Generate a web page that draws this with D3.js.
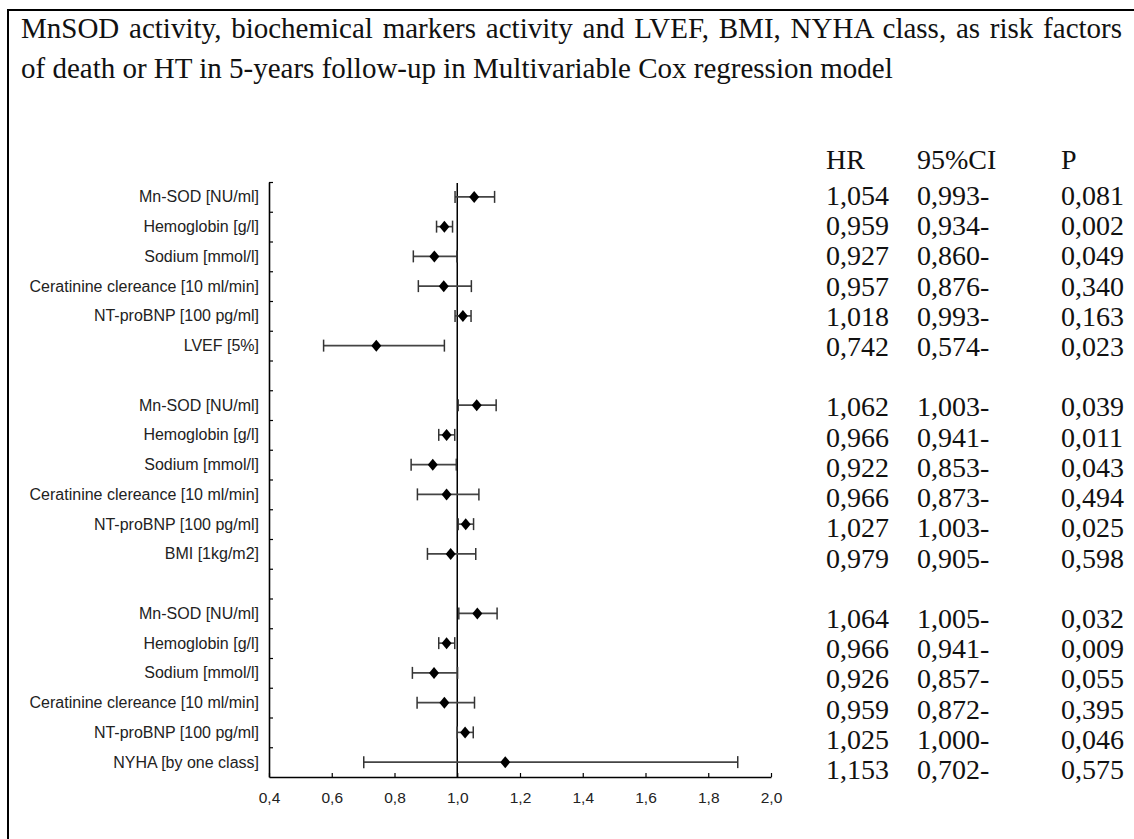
<!DOCTYPE html>
<html>
<head>
<meta charset="utf-8">
<script src="https://cdn.jsdelivr.net/npm/d3@7"></script>
<style>
  body { margin: 0; background: #fff; }
  svg { display: block; }
</style>
</head>
<body>
<svg id="chart"></svg>
<script>
// Title lines
var titleLines = [
  "MnSOD activity, biochemical markers activity and LVEF, BMI, NYHA class, as risk factors",
  "of death or HT in 5-years follow-up in Multivariable Cox regression model"
];

// Variables of the three models (6 each)
var rowLabels = [
  "Mn-SOD [NU/ml]", "Hemoglobin [g/l]", "Sodium [mmol/l]", "Ceratinine clereance [10 ml/min]", "NT-proBNP [100 pg/ml]", "LVEF [5%]",
  "Mn-SOD [NU/ml]", "Hemoglobin [g/l]", "Sodium [mmol/l]", "Ceratinine clereance [10 ml/min]", "NT-proBNP [100 pg/ml]", "BMI [1kg/m2]",
  "Mn-SOD [NU/ml]", "Hemoglobin [g/l]", "Sodium [mmol/l]", "Ceratinine clereance [10 ml/min]", "NT-proBNP [100 pg/ml]", "NYHA [by one class]"
];
var hrValues = [
  1.054, 0.959, 0.927, 0.957, 1.018, 0.742,
  1.062, 0.966, 0.922, 0.966, 1.027, 0.979,
  1.064, 0.966, 0.926, 0.959, 1.025, 1.153
];
var ciLower = [
  0.993, 0.934, 0.860, 0.876, 0.993, 0.574,
  1.003, 0.941, 0.853, 0.873, 1.003, 0.905,
  1.005, 0.941, 0.857, 0.872, 1.000, 0.702
];
// upper limits
var ciUpper = [
  1.119, 0.985, 0.999, 1.045, 1.044, 0.959,
  1.124, 0.992, 0.997, 1.069, 1.052, 1.059,
  1.127, 0.992, 1.001, 1.055, 1.051, 1.894
];
var pValues = [
  0.081, 0.002, 0.049, 0.340, 0.163, 0.023,
  0.039, 0.011, 0.043, 0.494, 0.025, 0.598,
  0.032, 0.009, 0.055, 0.395, 0.046, 0.575
];
var tableHeaders = ["HR", "95%CI", "P"];
var xTickValues = [0.4, 0.6, 0.8, 1.0, 1.2, 1.4, 1.6, 1.8, 2.0];

var width = 1134, height = 839;
var nSlots = 20;

// each model takes 6 slots, followed by one empty slot
function slotOf(i) {
  return i + Math.floor(i / 6);
}
function comma(f) {
  return function(v) { return d3.format(f)(v).replace(".", ","); };
}

var svg = d3.select("#chart")
  .attr("width", width)
  .attr("height", height);

// page frame
svg.append("rect")
  .attr("x", 8)
  .attr("y", 10)
  .attr("width", width + 20)
  .attr("height", height + 20)
  .attr("fill", "none")
  .attr("stroke", "#000")
  .attr("stroke-width", 2);

// title
var title = svg.append("g")
  .attr("font-family", "'Liberation Serif', 'Times New Roman', serif")
  .attr("font-size", 29)
  .attr("fill", "#111");

title.selectAll("text")
  .data(titleLines)
  .enter()
  .append("text")
  .attr("x", 21)
  .attr("y", function(d, i) { return 38 + i * 40; })
  .text(function(d) { return d; });

// justify the first line like the source document
var first = title.select("text").node();
var natural = first.getComputedTextLength();
var gaps = titleLines[0].split(" ").length - 1;
d3.select(first).attr("word-spacing", Math.max(0, (1101 - natural) / gaps));

// scales
var x = d3.scaleLinear().domain([0.4, 2.0]).range([269, 771]);
var y = d3.scaleBand().domain(d3.range(nSlots)).range([182, 777]);
var yEdge = d3.scaleLinear().domain([0, nSlots]).range([182, 777]);
var yTable = d3.scaleLinear().domain([0, nSlots - 1]).range([205, 779]);

// x axis
svg.append("g")
  .attr("transform", "translate(0," + 777 + ")")
  .call(d3.axisBottom(x)
    .tickValues(xTickValues)
    .tickSizeInner(-4)
    .tickSizeOuter(0)
    .tickPadding(15)
    .tickFormat(comma(".1f")))
  .call(function(g) {
    g.select(".domain").attr("stroke-width", 1.6);
    g.selectAll(".tick line").attr("stroke-width", 1.2);
    g.selectAll(".tick text")
      .attr("font-family", "'Liberation Sans', Arial, sans-serif")
      .attr("font-size", 15.5)
      .attr("fill", "#222");
  });

// y axis, ticks between rows
svg.append("g")
  .attr("transform", "translate(269,0)")
  .call(d3.axisRight(yEdge)
    .tickValues(d3.range(0, nSlots))
    .tickSizeInner(4)
    .tickSizeOuter(0)
    .tickFormat(""))
  .call(function(g) {
    g.select(".domain").attr("stroke-width", 1.6);
    g.selectAll(".tick line").attr("stroke-width", 1.2);
  });

// row labels
svg.append("g")
  .attr("font-family", "'Liberation Sans', Arial, sans-serif")
  .attr("font-size", 16)
  .attr("fill", "#222")
  .attr("text-anchor", "end")
  .selectAll("text")
  .data(rowLabels)
  .enter()
  .append("text")
  .attr("x", 259)
  .attr("y", function(d, i) { return y(slotOf(i)) + y.bandwidth() / 2; })
  .attr("dy", "0.35em")
  .text(function(d) { return d; });

// reference line at HR = 1
svg.append("line")
  .attr("x1", x(1))
  .attr("x2", x(1))
  .attr("y1", 183)
  .attr("y2", 777)
  .attr("stroke", "#000")
  .attr("stroke-width", 1.5);

// error bars and point estimates
var rows = svg.append("g")
  .selectAll("g")
  .data(hrValues)
  .enter()
  .append("g")
  .attr("transform", function(d, i) {
    return "translate(0," + (y(slotOf(i)) + y.bandwidth() / 2) + ")";
  });

rows.append("line")
  .attr("x1", function(d, i) { return x(ciLower[i]); })
  .attr("x2", function(d, i) { return x(ciUpper[i]); })
  .attr("stroke", "#444")
  .attr("stroke-width", 1.6);

rows.append("line")
  .attr("x1", function(d, i) { return x(ciLower[i]); })
  .attr("x2", function(d, i) { return x(ciLower[i]); })
  .attr("y1", -6)
  .attr("y2", 6)
  .attr("stroke", "#333")
  .attr("stroke-width", 1.5);

rows.append("line")
  .attr("x1", function(d, i) { return x(ciUpper[i]); })
  .attr("x2", function(d, i) { return x(ciUpper[i]); })
  .attr("y1", -6)
  .attr("y2", 6)
  .attr("stroke", "#333")
  .attr("stroke-width", 1.5);

rows.append("path")
  .attr("d", function(d) {
    var cx = x(d);
    return "M" + cx + ",-6L" + (cx + 5) + ",0L" + cx + ",6L" + (cx - 5) + ",0Z";
  })
  .attr("fill", "#000");

// table on the right
var table = svg.append("g")
  .attr("font-family", "'Liberation Serif', 'Times New Roman', serif")
  .attr("font-size", 28)
  .attr("fill", "#111");

var colX = [826, 917, 1061];

table.selectAll(".head")
  .data(tableHeaders)
  .enter()
  .append("text")
  .attr("class", "head")
  .attr("x", function(d, i) { return colX[i]; })
  .attr("y", 169)
  .text(function(d) { return d; });

var tRows = table.selectAll(".trow")
  .data(hrValues)
  .enter()
  .append("g")
  .attr("class", "trow")
  .attr("transform", function(d, i) { return "translate(0," + yTable(slotOf(i)) + ")"; });

tRows.append("text")
  .attr("x", colX[0])
  .text(function(d) { return comma(".3f")(d); });

tRows.append("text")
  .attr("x", colX[1])
  .text(function(d, i) { return comma(".3f")(ciLower[i]) + "-"; });

tRows.append("text")
  .attr("x", colX[2])
  .text(function(d, i) { return comma(".3f")(pValues[i]); });
</script>
</body>
</html>
